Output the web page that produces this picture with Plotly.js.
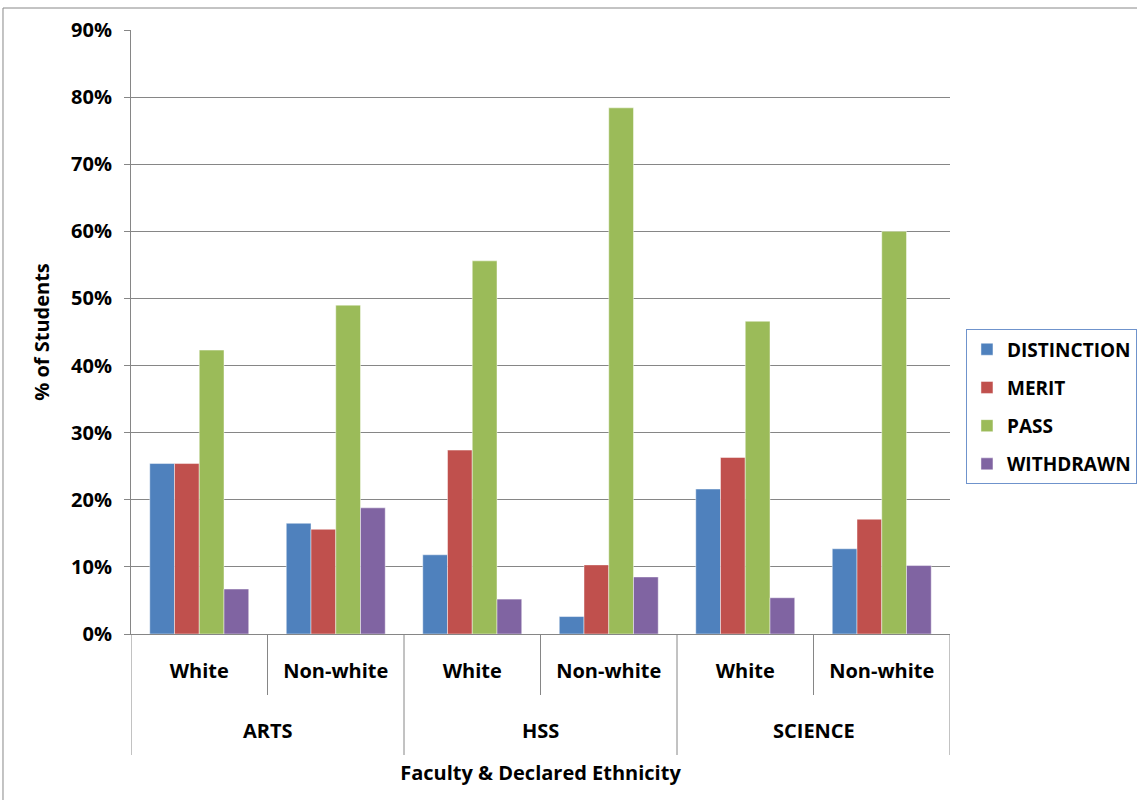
<!DOCTYPE html>
<html>
<head>
<meta charset="utf-8">
<script src="https://cdn.plot.ly/plotly-3.0.1.min.js"></script>
<style>html,body{margin:0;padding:0;background:#fff;}#chart{width:1137px;height:800px;}</style>
</head>
<body>
<div id="chart"></div>
<script>
const faculties = ['ARTS','ARTS','HSS','HSS','SCIENCE','SCIENCE'];
const ethnicity = ['White','Non-white','White','Non-white','White','Non-white'];
const distinction = [25.4, 16.5, 11.8, 2.6, 21.6, 12.7];
const merit = [25.4, 15.6, 27.4, 10.3, 26.3, 17.1];
const pass = [42.3, 49.0, 55.6, 78.4, 46.6, 60.0];
const withdrawn = [6.7, 18.8, 5.2, 8.5, 5.4, 10.2];
const seriesNames = ['DISTINCTION','MERIT','PASS','WITHDRAWN'];
const seriesColors = ['#4F81BD','#C0504D','#9BBB59','#8064A2'];
const seriesValues = [distinction, merit, pass, withdrawn];

const FONT = 'Open Sans, Liberation Sans, Arial, sans-serif';
const FS = 20;
const GRID = '#868686';

// category positions (one slot per faculty/ethnicity pair)
const xIdx = ethnicity.map((_, i) => i);

const traces = seriesValues.map((vals, i) => ({
  type: 'bar',
  name: seriesNames[i],
  x: xIdx,
  y: vals,
  legendgroup: 'g' + i,
  marker: {color: seriesColors[i], line: {color: 'rgba(255,255,255,0.45)', width: 1}},
  hoverinfo: 'y+name'
}));

// faculty group labels and dividers derived from the category arrays
const groups = [];
faculties.forEach((f, i) => {
  const last = groups[groups.length - 1];
  if (last && last.name === f) last.end = i; else groups.push({name: f, start: i, end: i});
});

const Y_INNER_END = (634 - 695) / 604;
const Y_OUTER_END = (634 - 755) / 604;
const Y_OUTER_LABEL = (634 - 731) / 604;

const shapes = [];
groups.forEach((g, gi) => {
  if (gi === 0) shapes.push({type: 'line', xref: 'x', yref: 'paper', x0: g.start - 0.5, x1: g.start - 0.5, y0: 0, y1: Y_OUTER_END, line: {color: GRID, width: 1}});
  shapes.push({type: 'line', xref: 'x', yref: 'paper', x0: g.end + 0.5, x1: g.end + 0.5, y0: 0, y1: Y_OUTER_END, line: {color: GRID, width: 1}});
  for (let k = g.start; k < g.end; k++) {
    shapes.push({type: 'line', xref: 'x', yref: 'paper', x0: k + 0.5, x1: k + 0.5, y0: 0, y1: Y_INNER_END, line: {color: GRID, width: 1}});
  }
});
// outer frame of the chart area (top and left edges visible)
shapes.push({type: 'line', xref: 'paper', yref: 'paper', x0: -0.1563, x1: 1.3, y0: 1.0364, y1: 1.0364, line: {color: '#888', width: 1}});
shapes.push({type: 'line', xref: 'paper', yref: 'paper', x0: -0.1563, x1: -0.1563, y0: 1.0364, y1: -0.3, line: {color: '#888', width: 1}});

const annotations = groups.map(g => ({
  xref: 'x', yref: 'paper', x: (g.start + g.end) / 2, y: Y_OUTER_LABEL,
  text: g.name, showarrow: false, xanchor: 'center', yanchor: 'middle',
  font: {family: FONT, size: FS, color: '#000', weight: 'bold'}
}));

const layout = {
  width: 1137, height: 800,
  margin: {l: 131, r: 187, t: 30, b: 166, autoexpand: false},
  paper_bgcolor: '#ffffff', plot_bgcolor: '#ffffff',
  font: {family: FONT, size: FS, color: '#000', weight: 'bold'},
  barmode: 'group',
  bargap: 0.275,
  bargroupgap: 0,
  showlegend: true,
  legend: {
    x: 1.0195, xanchor: 'left', y: 0.376, yanchor: 'middle',
    bordercolor: '#6F93CC', borderwidth: 1,
    font: {family: FONT, size: 19, color: '#000', weight: 'bold'},
    traceorder: 'grouped', tracegroupgap: 10.5,
    itemwidth: 30
  },
  xaxis: {
    type: 'linear', range: [-0.5, xIdx.length - 0.5],
    tickmode: 'array', tickvals: xIdx, ticktext: ethnicity,
    ticklabelstandoff: 19,
    showline: true, linecolor: GRID, linewidth: 1,
    ticks: '', showgrid: false, zeroline: false,
    tickfont: {family: FONT, size: FS, color: '#000', weight: 'bold'},
    title: {text: 'Faculty & Declared Ethnicity', font: {family: FONT, size: FS, color: '#000', weight: 'bold'}, standoff: 82}
  },
  yaxis: {
    range: [0, 90], dtick: 10, ticksuffix: '%',
    showline: true, linecolor: GRID, linewidth: 1,
    ticks: 'outside', ticklen: 6, tickcolor: GRID,
    ticklabelstandoff: 8,
    showgrid: true, gridcolor: GRID, gridwidth: 1,
    zeroline: false,
    tickfont: {family: FONT, size: FS, color: '#000', weight: 'bold'},
    title: {text: '% of Students', font: {family: FONT, size: FS, color: '#000', weight: 'bold'}, standoff: 16}
  },
  shapes: shapes,
  annotations: annotations
};

Plotly.newPlot('chart', traces, layout, {displayModeBar: false, staticPlot: true});
</script>
</body>
</html>
